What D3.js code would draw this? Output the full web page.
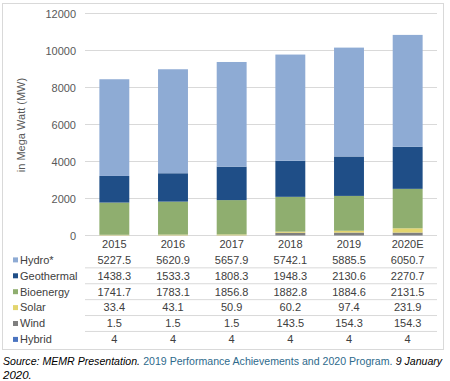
<!DOCTYPE html>
<html><head><meta charset="utf-8">
<script src="https://cdn.jsdelivr.net/npm/d3@7"></script>
<style>body{margin:0;background:#fff}svg{display:block}</style>
</head><body><svg id="c" width="450" height="381"></svg>
<script>
const years = ["2015","2016","2017","2018","2019","2020E"];
const seriesNames = ["Hydro*","Geothermal","Bioenergy","Solar","Wind","Hybrid"];
const hydro = [5227.5,5620.9,5657.9,5742.1,5885.5,6050.7];
const geothermal = [1438.3,1533.3,1808.3,1948.3,2130.6,2270.7];
const bioenergy = [1741.7,1783.1,1856.8,1882.8,1884.6,2131.5];
const solar = [33.4,43.1,50.9,60.2,97.4,231.9];
const wind = [1.5,1.5,1.5,143.5,154.3,154.3];
const hybrid = [4,4,4,4,4,4];
const yTicks = [0,2000,4000,6000,8000,10000,12000];
const colors = ["#8eabd4","#1f4e87","#8fae6f","#e3d56e","#7f7f7f","#4a74c0"];
const values = [hydro,geothermal,bioenergy,solar,wind,hybrid];

const svg = d3.select("#c");
const font = "Liberation Sans, Arial, sans-serif";
// frame
svg.append("rect").attr("x",2.5).attr("y",3.5).attr("width",441).attr("height",346)
  .attr("fill","none").attr("stroke","#d9d9d9");

const x = d3.scaleBand().domain(years).range([85,437]).paddingInner(0.49).paddingOuter(0.245);
const y = d3.scaleLinear().domain([0,12000]).range([235.5,13.5]);

// gridlines
svg.append("g").selectAll("line").data(yTicks).join("line")
  .attr("x1",85).attr("x2",437).attr("y1",d=>y(d)).attr("y2",d=>y(d))
  .attr("stroke","#d9d9d9").attr("stroke-width",1);
// y axis labels
const yAxis = d3.axisLeft(y).tickValues(yTicks).tickFormat(d3.format("d")).tickSize(0).tickPadding(0);
const ga = svg.append("g").attr("transform","translate(76,0)").call(yAxis);
ga.select(".domain").remove();
ga.selectAll("text").attr("font-family",font).attr("font-size",11).attr("fill","#595959");

svg.append("text").attr("transform","translate(25,125) rotate(-90)")
  .attr("text-anchor","middle").attr("font-family",font).attr("font-size",11).attr("fill","#595959")
  .text("in Mega Watt (MW)");

// stack: bottom to top Hybrid, Wind, Solar, Bioenergy, Geothermal, Hydro
const rows = years.map((yr,i)=>{const o={year:yr}; seriesNames.forEach((s,j)=>o[s]=values[j][i]); return o;});
const stackKeys = seriesNames.slice().reverse();
const stack = d3.stack().keys(stackKeys)(rows);
svg.append("g").selectAll("g").data(stack).join("g")
  .attr("fill",d=>colors[seriesNames.indexOf(d.key)])
  .selectAll("rect").data(d=>d).join("rect")
  .attr("x",d=>x(d.data.year)).attr("width",x.bandwidth())
  .attr("y",d=>y(d[1])).attr("height",d=>y(d[0])-y(d[1]));

// table
const rowY0 = 244, rowH = 15.9;
svg.append("g").selectAll("text").data(years).join("text")
  .attr("x",d=>x(d)+x.bandwidth()/2).attr("y",rowY0).attr("dy","0.35em")
  .attr("text-anchor","middle").attr("font-family",font).attr("font-size",11).attr("fill","#404040")
  .text(d=>d);
const tbl = svg.append("g");
seriesNames.forEach((s,j)=>{
  const cy = rowY0 + rowH*(j+1);
  tbl.append("rect").attr("x",13).attr("y",cy-2.5).attr("width",5).attr("height",5).attr("fill",colors[j]);
  tbl.append("text").attr("x",20).attr("y",cy).attr("dy","0.35em").attr("font-family",font)
    .attr("font-size",11).attr("fill","#404040").text(s);
  years.forEach((yr,i)=>{
    tbl.append("text").attr("x",x(yr)+x.bandwidth()/2).attr("y",cy).attr("dy","0.35em")
      .attr("text-anchor","middle").attr("font-family",font).attr("font-size",11).attr("fill","#404040")
      .text(values[j][i]);
  });
  if(j<seriesNames.length-1){
    tbl.append("line").attr("x1",85).attr("x2",437).attr("y1",cy+rowH/2).attr("y2",cy+rowH/2)
      .attr("stroke","#d9d9d9");
  }
});

// source, laid out as separate pieces fitted to the width
const parts = [
  {t:"Source: MEMR Presentation.", italic:true, fill:"#000"},
  {t:"2019 Performance Achievements and 2020 Program.", italic:false, fill:"#2e6a8c"},
  {t:"9 January", italic:true, fill:"#000"}
];
const src = svg.append("g");
const els = parts.map(p=>src.append("text").attr("y",365).attr("font-family",font)
  .attr("font-style",p.italic?"italic":"normal").attr("fill",p.fill).attr("font-size",11.5).text(p.t));
function layout(fs){
  els.forEach(e=>e.attr("font-size",fs));
  const gap = fs*0.3;
  let cx = 3;
  els.forEach(e=>{e.attr("x",cx); cx += e.node().getComputedTextLength() + gap;});
  return cx - gap - 3;
}
let w = layout(11.5);
if (w > 442) layout(11.5*442/w - 0.05);
svg.append("text").attr("x",3).attr("y",379).attr("font-family",font).attr("font-size",11.5)
  .attr("font-style","italic").text("2020.");
</script></body></html>
